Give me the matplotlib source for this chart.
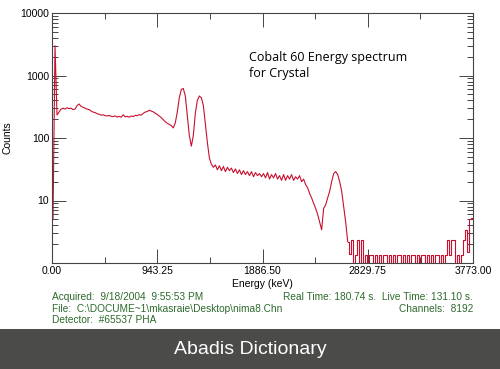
import numpy as np
import matplotlib
matplotlib.use("Agg")
import matplotlib.pyplot as plt
from matplotlib.ticker import FixedLocator, FixedFormatter, LogLocator, NullFormatter

# ---- data (counts per display bin) ----
counts = [
    5, 3000, 234, 260, 290, 300, 290, 305, 295, 300,
    285, 290, 330, 350, 320, 310, 300, 290, 285, 270,
    260, 255, 245, 240, 232, 236, 228, 225, 230, 222,
    220, 226, 216, 222, 215, 235, 218, 222, 216, 225,
    220, 230, 228, 236, 232, 248, 260, 265, 278, 270,
    262, 250, 238, 225, 212, 196, 182, 172, 165, 158,
    145, 175, 260, 440, 600, 620, 470, 230, 110, 74,
    110, 250, 400, 470, 440, 330, 170, 85, 48, 38,
    34, 37, 31, 36, 30, 35, 29, 34, 30, 33,
    28, 32, 27, 31, 26, 30, 26, 29, 25, 29,
    24, 28, 25, 27, 24, 27, 23, 28, 22, 26,
    23, 27, 22, 25, 21, 26, 21, 25, 22, 26,
    21, 24, 22, 25, 20, 22, 18, 16, 13, 11,
    9, 7.5, 6, 4.5, 3.4, 7.5, 8.5, 11, 14, 20,
    27, 29, 26, 20, 14, 8, 4.5, 2.2, 1.4, 2.3,
    0, 1.35, 2.3, 0, 2.3, 0, 1.35, 0, 1.35, 1.35,
    0, 1.35, 0, 1.35, 0, 1.35, 1.35, 0, 1.35, 0,
    1.35, 0, 1.35, 1.35, 0, 1.35, 0, 1.35, 0, 1.35,
    1.35, 0, 1.35, 0, 1.35, 1.35, 0, 1.35, 0, 1.35,
    0, 1.35, 1.35, 0, 1.35, 0, 1.35, 2.3, 1.35, 2.3,
    2.3, 0, 1.35, 0, 1.35, 2.3, 3.4, 1.5, 5, 5.2,
]
floor_start = 147  # first bin of the near-empty region past the Compton edge
energy_max = 3773.0
x_ticks = [0.0, 943.25, 1886.50, 2829.75, 3773.00]
y_ticks = [10, 100, 1000, 10000]
title_lines = ["Cobalt 60 Energy spectrum", "for Crystal"]
info_left = ["Acquired:  9/18/2004  9:55:53 PM",
             "File:  C:\\DOCUME~1\\mkasraie\\Desktop\\nima8.Chn",
             "Detector:  #65537 PHA"]
info_right = ["Real Time: 180.74 s.  Live Time: 131.10 s.",
              "Channels:  8192"]

# channel -> energy calibration
n = len(counts)
bin_w = energy_max / n
energy = (np.arange(n) + 0.5) * bin_w
counts_arr = np.array(counts, dtype=float)

plt.rcParams['font.family'] = ['Liberation Sans', 'DejaVu Sans']

fig = plt.figure(figsize=(5.0, 3.69), dpi=100)
fig.patch.set_facecolor('white')
ax = fig.add_axes([52/500, 1-263/369, 421/500, 250/369])

line_c = '#c8102e'
ax.plot(energy[:floor_start + 1], counts_arr[:floor_start + 1], color=line_c, lw=0.8)
ax.plot(energy[floor_start:], counts_arr[floor_start:], color=line_c, lw=0.8,
        drawstyle='steps-mid')
ax.set_yscale('log', nonpositive='clip')
ax.set_xlim(0, energy_max)
ax.set_ylim(1, 10000)

spine_c = '#444444'
for s in ax.spines.values():
    s.set_color(spine_c)
    s.set_linewidth(0.8)

ax.xaxis.set_major_locator(FixedLocator(x_ticks))
ax.xaxis.set_major_formatter(FixedFormatter([f"{v:.2f}" for v in x_ticks]))
ax.xaxis.set_minor_locator(FixedLocator([(a + b) / 2 for a, b in zip(x_ticks[:-1], x_ticks[1:])]))
ax.yaxis.set_major_locator(FixedLocator(y_ticks))
ax.yaxis.set_major_formatter(FixedFormatter([str(v) for v in y_ticks]))
ax.yaxis.set_minor_locator(LogLocator(base=10, subs=np.arange(2, 10)))
ax.yaxis.set_minor_formatter(NullFormatter())

ax.tick_params(which='both', direction='in', top=True, right=True, colors=spine_c,
               labelcolor='black', labelsize=7.5, width=0.7)
ax.tick_params(which='major', length=10, pad=2)
ax.tick_params(which='minor', length=4.5)

ax.set_xlabel('Energy (keV)', fontsize=7.5, labelpad=2)
ax.set_ylabel('Counts', fontsize=7.5, labelpad=6)

fig.text(249/500, 1-57/369, title_lines[0], fontsize=9, family=['Open Sans', 'DejaVu Sans'],
         va='center', ha='left')
fig.text(249/500, 1-73/369, title_lines[1], fontsize=9, family=['Open Sans', 'DejaVu Sans'],
         va='center', ha='left')

green = '#2d6a2d'
for k, t in enumerate(info_left):
    fig.text(52/500, 1-(297 + 11.5*k)/369, t, fontsize=7.3, color=green, va='center', ha='left')
for k, t in enumerate(info_right):
    fig.text(473/500, 1-(297 + 11.5*k)/369, t, fontsize=7.3, color=green, va='center', ha='right')

# footer band
band = fig.add_axes([0, 0, 1, 40/369])
band.set_axis_off()
band.add_patch(plt.Rectangle((0, 0), 1, 1, color='#4b4b4a', transform=band.transAxes))
band.text(0.5, 0.5, 'Abadis Dictionary', color='white', fontsize=14, ha='center', va='center',
          transform=band.transAxes)

fig.savefig('out.png', dpi=100, facecolor='white')
